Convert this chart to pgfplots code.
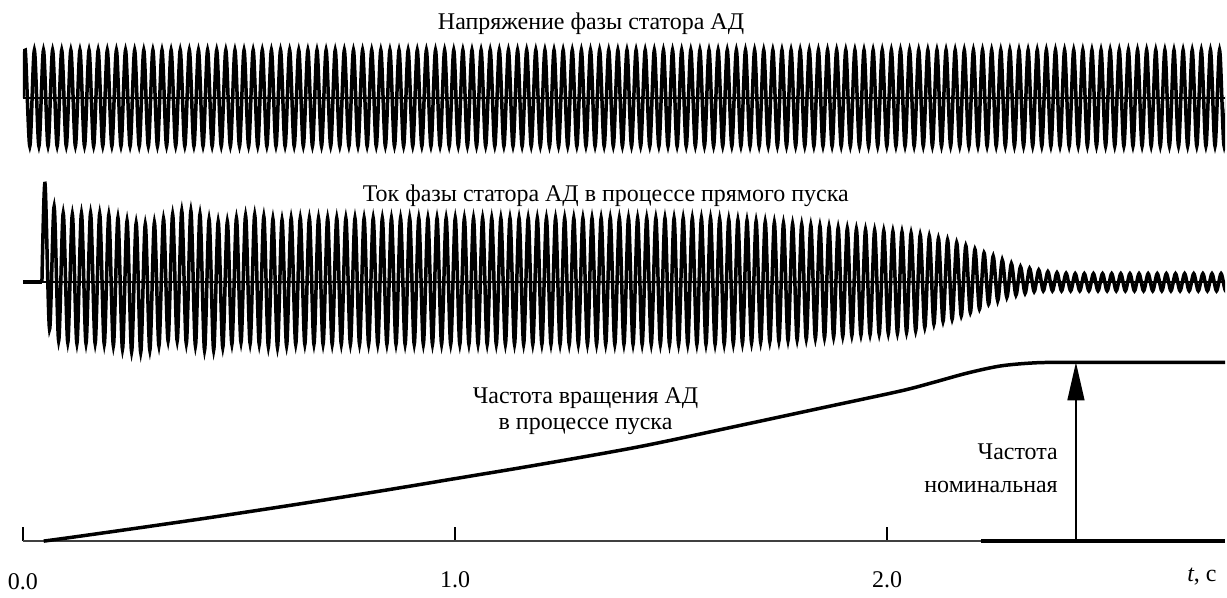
\documentclass[border=0pt]{standalone}
\usepackage{fontspec}
\setmainfont{Liberation Serif}
\usepackage{pgfplots}
\pgfplotsset{compat=1.18}
\usetikzlibrary{arrows.meta}

\begin{document}
\fontsize{9.6}{11.5}\selectfont
\begin{tikzpicture}
\path (0,0) rectangle (490.8pt,238pt);
\pgfplotsset{osc/.style={scale only axis, width=481.6pt, xmin=0, xmax=2.782,
  anchor=south west, clip mode=individual}}

% voltage of the stator phase (p.u.)
\begin{axis}[osc, at={(8.4pt,174.68pt)}, height=48pt, ymin=-1.25, ymax=1.25, hide axis]
\addplot[black, line width=0.8pt] coordinates {(0,0)(2.782,0)};
\addplot[black, line width=1.4pt, smooth] coordinates {(0,0)
(0.0053,1)(0.01585,-1)(0.0264,1)(0.03695,-1)(0.0475,1)(0.05805,-1)(0.0686,1)(0.07915,-1)(0.0897,1)(0.10025,-1)(0.1108,1)(0.12135,-1)(0.1319,1)(0.14245,-1)(0.153,1)(0.16355,-1)(0.1741,1)(0.18465,-1)(0.1952,1)(0.20575,-1)
(0.2163,1)(0.22685,-1)(0.2374,1)(0.24795,-1)(0.2585,1)(0.26905,-1)(0.2796,1)(0.29015,-1)(0.3007,1)(0.31125,-1)(0.3218,1)(0.33235,-1)(0.3429,1)(0.35345,-1)(0.364,1)(0.37455,-1)(0.3851,1)(0.39565,-1)(0.4062,1)(0.41675,-1)
(0.4273,1)(0.43785,-1)(0.4484,1)(0.45895,-1)(0.4695,1)(0.48005,-1)(0.4906,1)(0.50115,-1)(0.5117,1)(0.52225,-1)(0.5328,1)(0.54335,-1)(0.5539,1)(0.56445,-1)(0.575,1)(0.58555,-1)(0.5961,1)(0.60665,-1)(0.6172,1)(0.62775,-1)
(0.6383,1)(0.64885,-1)(0.6594,1)(0.66995,-1)(0.6805,1)(0.69105,-1)(0.7016,1)(0.71215,-1)(0.7227,1)(0.73325,-1)(0.7438,1)(0.75435,-1)(0.7649,1)(0.77545,-1)(0.786,1)(0.79655,-1)(0.8071,1)(0.81765,-1)(0.8282,1)(0.83875,-1)
(0.8493,1)(0.85985,-1)(0.8704,1)(0.88095,-1)(0.8915,1)(0.90205,-1)(0.9126,1)(0.92315,-1)(0.9337,1)(0.94425,-1)(0.9548,1)(0.96535,-1)(0.9759,1)(0.98645,-1)(0.997,1)(1.00755,-1)(1.0181,1)(1.02865,-1)(1.0392,1)(1.04975,-1)
(1.0603,1)(1.07085,-1)(1.0814,1)(1.09195,-1)(1.1025,1)(1.11305,-1)(1.1236,1)(1.13415,-1)(1.1447,1)(1.15525,-1)(1.1658,1)(1.17635,-1)(1.1869,1)(1.19745,-1)(1.208,1)(1.21855,-1)(1.2291,1)(1.23965,-1)(1.2502,1)(1.26075,-1)
(1.2713,1)(1.28185,-1)(1.2924,1)(1.30295,-1)(1.3135,1)(1.32405,-1)(1.3346,1)(1.34515,-1)(1.3557,1)(1.36625,-1)(1.3768,1)(1.38735,-1)(1.3979,1)(1.40845,-1)(1.419,1)(1.42955,-1)(1.4401,1)(1.45065,-1)(1.4612,1)(1.47175,-1)
(1.4823,1)(1.49285,-1)(1.5034,1)(1.51395,-1)(1.5245,1)(1.53505,-1)(1.5456,1)(1.55615,-1)(1.5667,1)(1.57725,-1)(1.5878,1)(1.59835,-1)(1.6089,1)(1.61945,-1)(1.63,1)(1.64055,-1)(1.6511,1)(1.66165,-1)(1.6722,1)(1.68275,-1)
(1.6933,1)(1.70385,-1)(1.7144,1)(1.72495,-1)(1.7355,1)(1.74605,-1)(1.7566,1)(1.76715,-1)(1.7777,1)(1.78825,-1)(1.7988,1)(1.80935,-1)(1.8199,1)(1.83045,-1)(1.841,1)(1.85155,-1)(1.8621,1)(1.87265,-1)(1.8832,1)(1.89375,-1)
(1.9043,1)(1.91485,-1)(1.9254,1)(1.93595,-1)(1.9465,1)(1.95705,-1)(1.9676,1)(1.97815,-1)(1.9887,1)(1.99925,-1)(2.0098,1)(2.02035,-1)(2.0309,1)(2.04145,-1)(2.052,1)(2.06255,-1)(2.0731,1)(2.08365,-1)(2.0942,1)(2.10475,-1)
(2.1153,1)(2.12585,-1)(2.1364,1)(2.14695,-1)(2.1575,1)(2.16805,-1)(2.1786,1)(2.18915,-1)(2.1997,1)(2.21025,-1)(2.2208,1)(2.23135,-1)(2.2419,1)(2.25245,-1)(2.263,1)(2.27355,-1)(2.2841,1)(2.29465,-1)(2.3052,1)(2.31575,-1)
(2.3263,1)(2.33685,-1)(2.3474,1)(2.35795,-1)(2.3685,1)(2.37905,-1)(2.3896,1)(2.40015,-1)(2.4107,1)(2.42125,-1)(2.4318,1)(2.44235,-1)(2.4529,1)(2.46345,-1)(2.474,1)(2.48455,-1)(2.4951,1)(2.50565,-1)(2.5162,1)(2.52675,-1)
(2.5373,1)(2.54785,-1)(2.5584,1)(2.56895,-1)(2.5795,1)(2.59005,-1)(2.6006,1)(2.61115,-1)(2.6217,1)(2.63225,-1)(2.6428,1)(2.65335,-1)(2.6639,1)(2.67445,-1)(2.685,1)(2.69555,-1)(2.7061,1)(2.71665,-1)(2.7272,1)(2.73775,-1)
(2.7483,1)(2.75885,-1)(2.7694,1)(2.77995,-1)(2.7905,1)};
\end{axis}

% stator phase current during direct start
\begin{axis}[osc, at={(8.4pt,90.92pt)}, height=78pt, ymin=-85, ymax=110, hide axis]
\addplot[black, line width=0.8pt] coordinates {(0,0)(2.782,0)};
\addplot[black, line width=1.4pt] coordinates {(0,0)(0.0439,0)};
\addplot[black, line width=1.4pt, smooth] coordinates {(0.0439,0)
(0.051,99)(0.06155,-47)(0.0721,75.7)(0.08265,-58.6)(0.0932,69)(0.10375,-60.3)(0.1143,68)(0.12485,-61.3)(0.1354,69)(0.14595,-61.3)(0.1565,69)(0.16705,-61.3)(0.1776,68.4)(0.18815,-62)(0.1987,67.4)(0.20925,-63.6)(0.2198,64.7)(0.23035,-67)(0.2409,61.4)(0.25145,-69.6)
(0.262,59)(0.27255,-70.3)(0.2831,58)(0.29365,-68)(0.3042,59.7)(0.31475,-63.6)(0.3253,63.4)(0.33585,-58.6)(0.3464,68)(0.35695,-58.6)(0.3675,71.4)(0.37805,-61.3)(0.3886,71.4)(0.39915,-63.6)(0.4097,68)(0.42025,-68)(0.4308,63)(0.44135,-68)(0.4519,60.7)(0.46245,-65.3)
(0.473,60.7)(0.48355,-62)(0.4941,64)(0.50465,-60.3)(0.5152,66.7)(0.52575,-61.3)(0.5363,67.4)(0.54685,-62)(0.5574,65.7)(0.56795,-64.6)(0.5785,63.4)(0.58905,-65.3)(0.5996,62.4)(0.61015,-63.6)(0.6207,64)(0.63125,-62)(0.6418,64)(0.65235,-62)(0.6629,64)(0.67345,-62)
(0.684,64)(0.69455,-62)(0.7051,64)(0.71565,-62)(0.7262,64)(0.73675,-62)(0.7473,64)(0.75785,-62)(0.7684,64)(0.77895,-62)(0.7895,64)(0.80005,-62)(0.8106,64)(0.82115,-62)(0.8317,64)(0.84225,-62)(0.8528,64)(0.86335,-62)(0.8739,64)(0.88445,-62)
(0.895,64)(0.90555,-62)(0.9161,64)(0.92665,-62)(0.9372,64)(0.94775,-62)(0.9583,64)(0.96885,-62)(0.9794,64)(0.98995,-62)(1.0005,64)(1.01105,-62)(1.0216,64)(1.03215,-62)(1.0427,64)(1.05325,-62)(1.0638,64)(1.07435,-62)(1.0849,64)(1.09545,-62)
(1.106,64)(1.11655,-62)(1.1271,64)(1.13765,-62)(1.1482,64)(1.15875,-62)(1.1693,64)(1.17985,-62)(1.1904,64)(1.20095,-62)(1.2115,64)(1.22205,-62)(1.2326,64)(1.24315,-62)(1.2537,64)(1.26425,-62)(1.2748,64)(1.28535,-62)(1.2959,64)(1.30645,-62)
(1.317,64)(1.32755,-62)(1.3381,64)(1.34865,-62)(1.3592,64)(1.36975,-62)(1.3803,64)(1.39085,-62)(1.4014,64)(1.41195,-62)(1.4225,64)(1.43305,-62)(1.4436,64)(1.45415,-62)(1.4647,64)(1.47525,-62)(1.4858,64)(1.49635,-62)(1.5069,64)(1.51745,-62)
(1.528,64)(1.53855,-62)(1.5491,64)(1.55965,-62)(1.5702,64)(1.58075,-62)(1.5913,64)(1.60185,-62)(1.6124,63)(1.62295,-61.8)(1.6335,62.6)(1.64405,-61.4)(1.6546,62.1)(1.66515,-60.9)(1.6757,61.6)(1.68625,-60.5)(1.6968,61)(1.70735,-59.9)(1.7179,60.3)(1.72845,-59.3)
(1.739,59.7)(1.74955,-58.8)(1.7601,59)(1.77065,-58.2)(1.7812,58.3)(1.79175,-57.5)(1.8023,57.7)(1.81285,-56.8)(1.8234,56.9)(1.83395,-56.2)(1.8445,56.2)(1.85505,-55.5)(1.8656,55.4)(1.87615,-54.8)(1.8867,54.5)(1.89725,-54.1)(1.9078,53.8)(1.91835,-53.3)(1.9289,53.1)(1.93945,-52.7)
(1.95,52.5)(1.96055,-52.3)(1.9711,52)(1.98165,-51.8)(1.9922,51.4)(2.00275,-51.3)(2.0133,50.8)(2.02385,-51)(2.0344,50.2)(2.04495,-50.1)(2.0555,49)(2.06605,-48.5)(2.0766,47.3)(2.08715,-45.2)(2.0977,46.1)(2.10825,-41.8)(2.1188,43.8)(2.12935,-39.2)(2.1399,42.3)(2.15045,-37)
(2.161,39.6)(2.17155,-33.6)(2.1821,36.5)(2.19265,-30.3)(2.2032,33)(2.21375,-26.9)(2.2243,29.4)(2.23485,-21.9)(2.2454,26.1)(2.25595,-18.5)(2.2665,22.2)(2.27705,-15.1)(2.2876,18.6)(2.29815,-12.9)(2.3087,15.5)(2.31925,-11.1)(2.3298,13.8)(2.34035,-9.3)(2.3509,12.2)(2.36145,-8.6)
(2.372,10.6)(2.38255,-8.6)(2.3931,9.6)(2.40365,-8.6)(2.4142,9)(2.42475,-8.6)(2.4353,8.6)(2.44585,-8.6)(2.4564,8.6)(2.46695,-8.6)(2.4775,8.6)(2.48805,-8.6)(2.4986,8.6)(2.50915,-8.6)(2.5197,8.6)(2.53025,-8.6)(2.5408,8.6)(2.55135,-8.6)(2.5619,8.6)(2.57245,-8.6)
(2.583,8.6)(2.59355,-8.6)(2.6041,8.6)(2.61465,-8.6)(2.6252,8.6)(2.63575,-8.6)(2.6463,8.6)(2.65685,-8.6)(2.6674,8.6)(2.67795,-8.6)(2.6885,8.6)(2.69905,-8.6)(2.7096,8.6)(2.72015,-8.6)(2.7307,8.6)(2.74125,-8.6)(2.7518,8.6)(2.76235,-8.6)(2.7729,8.6)(2.78345,-8.6)
(2.794,8.6)};
\end{axis}

% rotor speed (p.u. of nominal) and the time axis
\begin{axis}[osc, at={(8.4pt,21.2pt)}, height=78.76pt, ymin=0, ymax=1.1, clip=false,
  axis x line=bottom, axis y line=none,
  axis line style={-, line width=0.5pt, black!75},
  every outer x axis line/.append style={-},
  xtick={0,1,2}, xticklabels={\raisebox{-1pt}{0.0},1.0,2.0},
  tick align=inside, major tick length=5.6pt,
  tick style={black, line width=0.65pt},
  xticklabel style={anchor=base, yshift=-18.4pt}]
\addplot[black, line width=1.4pt, smooth] coordinates {
(0.048,0)(0.106,0.019)(0.183,0.045)(0.259,0.071)(0.337,0.098)(0.414,0.125)
(0.491,0.153)(0.645,0.210)(0.829,0.281)(0.991,0.346)(1.199,0.430)(1.430,0.530)
(1.661,0.648)(1.846,0.744)(2.031,0.840)(2.107,0.888)(2.185,0.940)(2.262,0.980)
(2.338,0.997)(2.415,1)(2.782,1)};
\addplot[black, line width=1.3pt] coordinates {(2.218,0)(2.782,0)};
\draw[black, line width=0.6pt, -{Triangle[length=15.2pt, width=6.8pt]}]
  (axis cs:2.437,0) -- (axis cs:2.437,1);
\end{axis}

\node[anchor=base] at (236pt,226.28pt) {Напряжение фазы статора АД};
\node[anchor=base] at (241.9pt,157.08pt) {Ток фазы статора АД в процессе прямого пуска};
\node[anchor=base] at (233.8pt,76.4pt) {Частота вращения АД};
\node[anchor=base] at (233.8pt,66pt) {в процессе пуска};
\node[anchor=base east, inner sep=0pt] at (423.2pt,53.8pt) {Частота};
\node[anchor=base east, inner sep=0pt] at (423.2pt,40.6pt) {номинальная};
\node[anchor=base east, inner sep=0pt] at (486.8pt,5.2pt) {\textit{t}, с};
\end{tikzpicture}
\end{document}
